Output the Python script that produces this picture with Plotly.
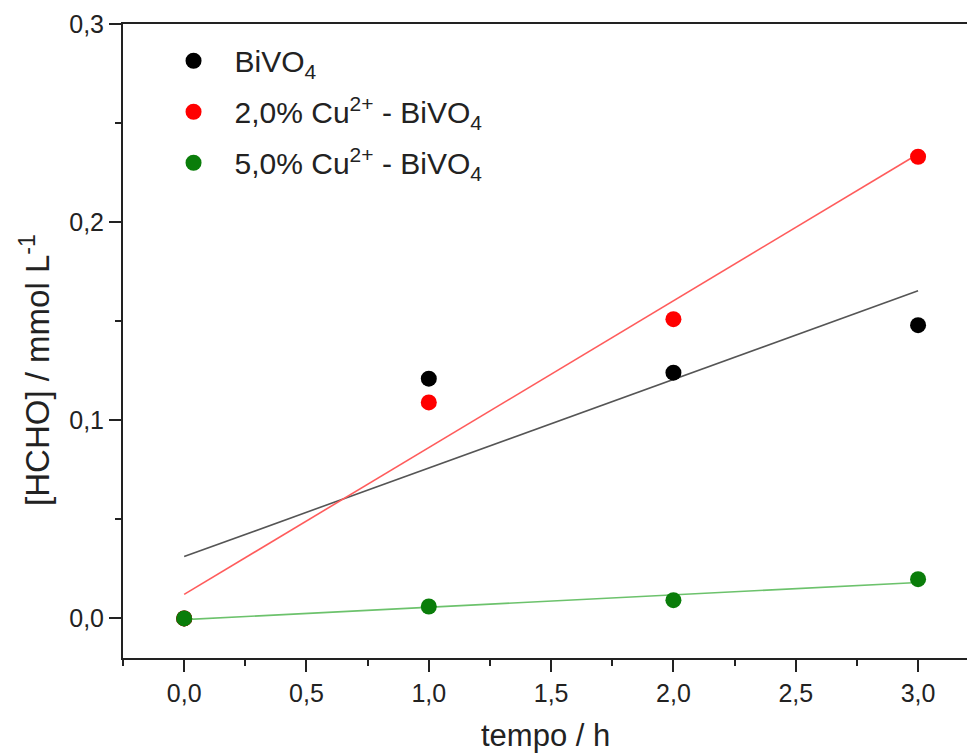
import numpy as np
import plotly.graph_objects as go

# ---- data ----
tempo = [0, 1, 2, 3]
bivo4 = [0.0, 0.121, 0.124, 0.148]
cu2_bivo4 = [0.0, 0.109, 0.151, 0.233]
cu5_bivo4 = [0.0, 0.006, 0.0092, 0.0198]

series_names = [
    "BiVO<sub>4</sub>",
    "2,0% Cu<sup>2+</sup> - BiVO<sub>4</sub>",
    "5,0% Cu<sup>2+</sup> - BiVO<sub>4</sub>",
]
point_colors = ["#000000", "#ff0000", "#0a7d0a"]
fit_colors = ["#555555", "#ff5c5c", "#6cc26c"]

x_tickvals = [0, 0.5, 1, 1.5, 2, 2.5, 3]
x_ticktext = ["0,0", "0,5", "1,0", "1,5", "2,0", "2,5", "3,0"]
y_tickvals = [0, 0.1, 0.2, 0.3]
y_ticktext = ["0,0", "0,1", "0,2", "0,3"]

font_family = "Liberation Sans, Arial, sans-serif"

fig = go.Figure()

all_series = [bivo4, cu2_bivo4, cu5_bivo4]

# linear fits (computed from the data)
for ys, col in zip(all_series, fit_colors):
    slope, intercept = np.polyfit(tempo, ys, 1)
    xf = np.array([tempo[0], tempo[-1]], dtype=float)
    fig.add_trace(go.Scatter(
        x=xf, y=slope * xf + intercept, mode="lines",
        line=dict(color=col, width=1.6), showlegend=False, hoverinfo="skip"))

for i, (ys, name, col) in enumerate(zip(all_series, series_names, point_colors)):
    fig.add_trace(go.Scatter(
        x=tempo, y=ys, mode="markers", name=name, legendgroup=f"g{i}",
        marker=dict(color=col, size=16, line=dict(width=0))))

axis_common = dict(
    showline=True, linewidth=2, linecolor="#222222",
    ticks="outside", ticklen=12, tickwidth=2, tickcolor="#222222",
    showgrid=False, zeroline=False,
    tickfont=dict(family=font_family, size=25, color="#222222"),
)

fig.update_xaxes(
    range=[-0.25, 3.2], tickvals=x_tickvals, ticktext=x_ticktext,
    mirror=True,
    minor=dict(dtick=0.25, tick0=0, ticks="outside", ticklen=6, tickwidth=2, tickcolor="#222222"),
    **axis_common)
fig.update_yaxes(
    range=[-0.02, 0.3], tickvals=y_tickvals, ticktext=y_ticktext,
    mirror=False,
    minor=dict(dtick=0.05, tick0=0, ticks="outside", ticklen=6, tickwidth=2, tickcolor="#222222"),
    **axis_common)

fig.add_annotation(
    text="tempo / h", xref="paper", yref="paper", x=0.5, y=-0.122,
    xanchor="center", yanchor="middle", showarrow=False,
    font=dict(family=font_family, size=31, color="#222222"))
fig.add_annotation(
    text="[HCHO] / mmol L<sup>-1</sup>", xref="paper", yref="paper",
    x=-0.105, y=0.455, xanchor="center", yanchor="middle", textangle=-90,
    showarrow=False, font=dict(family=font_family, size=33, color="#222222"))

fig.update_layout(
    width=967, height=753,
    margin=dict(l=123, r=0, t=24, b=95),
    paper_bgcolor="white", plot_bgcolor="white",
    font=dict(family=font_family, color="#222222"),
    showlegend=True,
    legend=dict(
        x=0.035, y=0.983, xanchor="left", yanchor="top",
        bgcolor="rgba(0,0,0,0)", font=dict(family=font_family, size=30, color="#222222"),
        itemsizing="trace", itemwidth=72, tracegroupgap=9,
    ),
)

fig.write_html("out.html")
